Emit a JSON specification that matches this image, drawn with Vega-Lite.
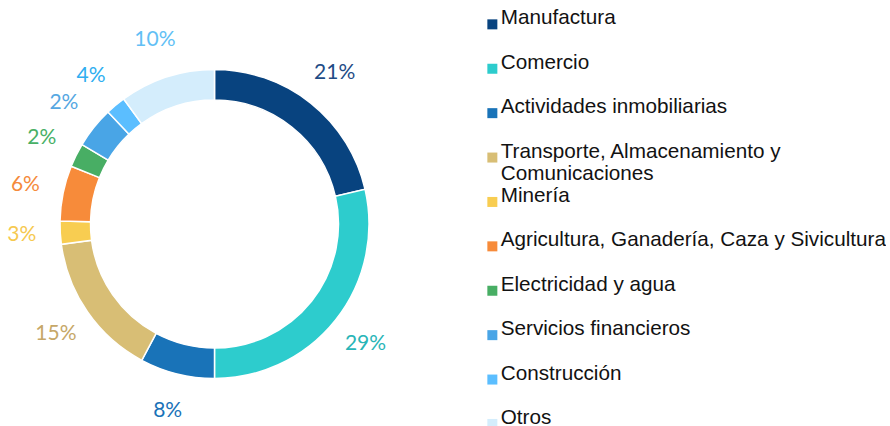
{
  "$schema": "https://vega.github.io/schema/vega-lite/v6.json",
  "padding": {"top": 14, "left": 0, "right": 0, "bottom": 0},
  "width": 429,
  "height": 412,
  "autosize": {"type": "pad"},
  "data": {
    "values": [
      {"orden": 1, "sector": "Manufactura", "valor": 21.4, "etiqueta": "21%"},
      {"orden": 2, "sector": "Comercio", "valor": 28.6, "etiqueta": "29%"},
      {"orden": 3, "sector": "Actividades inmobiliarias", "valor": 7.8, "etiqueta": "8%"},
      {"orden": 4, "sector": "Transporte, Almacenamiento y Comunicaciones", "valor": 15.1, "etiqueta": "15%"},
      {"orden": 5, "sector": "Minería", "valor": 2.4, "etiqueta": "3%"},
      {"orden": 6, "sector": "Agricultura, Ganadería, Caza y Sivicultura", "valor": 5.8, "etiqueta": "6%"},
      {"orden": 7, "sector": "Electricidad y agua", "valor": 2.5, "etiqueta": "2%"},
      {"orden": 8, "sector": "Servicios financieros", "valor": 4.3, "etiqueta": "2%"},
      {"orden": 9, "sector": "Construcción", "valor": 2.1, "etiqueta": "4%"},
      {"orden": 10, "sector": "Otros", "valor": 10.0, "etiqueta": "10%"}
    ]
  },
  "encoding": {
    "theta": {"field": "valor", "type": "quantitative", "stack": true},
    "order": {"field": "orden", "type": "quantitative", "sort": "ascending"}
  },
  "layer": [
    {
      "mark": {"type": "arc", "innerRadius": 124, "outerRadius": 154.5, "stroke": "#ffffff", "strokeWidth": 1.5},
      "encoding": {
        "color": {
          "field": "sector",
          "type": "nominal",
          "scale": {
            "domain": ["Manufactura", "Comercio", "Actividades inmobiliarias", "Transporte, Almacenamiento y Comunicaciones", "Minería", "Agricultura, Ganadería, Caza y Sivicultura", "Electricidad y agua", "Servicios financieros", "Construcción", "Otros"],
            "range": ["#08437f", "#2dcccd", "#1973b8", "#d8be75", "#f8cd51", "#f78b3a", "#48ae64", "#49a5e6", "#5bbeff", "#d4edfc"]
          },
          "legend": {
            "title": null,
            "orient": "none",
            "legendX": 482,
            "legendY": -4,
            "symbolType": "square",
            "symbolSize": 100,
            "symbolStrokeWidth": 0,
            "labelFont": "Liberation Sans",
            "labelFontSize": 20.7,
            "labelColor": "#121212",
            "labelLimit": 420,
            "labelOffset": -2,
            "rowPadding": 0.4,
            "labelBaseline": "alphabetic",
            "labelExpr": "datum.label == 'Transporte, Almacenamiento y Comunicaciones' ? ['Transporte, Almacenamiento y', 'Comunicaciones'] : [datum.label, '']",
            "encode": {"labels": {"update": {"dy": {"value": 6.5}}}}
          }
        }
      }
    },
    {
      "mark": {"type": "text", "radius": 193, "font": "Lato", "fontSize": 21, "fontWeight": 400},
      "encoding": {
        "text": {"field": "etiqueta", "type": "nominal"},
        "color": {
          "field": "sector",
          "type": "nominal",
          "scale": {
            "domain": ["Manufactura", "Comercio", "Actividades inmobiliarias", "Transporte, Almacenamiento y Comunicaciones", "Minería", "Agricultura, Ganadería, Caza y Sivicultura", "Electricidad y agua", "Servicios financieros", "Construcción", "Otros"],
            "range": ["#1f4c86", "#29b5b7", "#1a72b8", "#c6a768", "#f6c94f", "#f58a3b", "#48b066", "#55a7e2", "#2eaef0", "#62bff5"]
          },
          "legend": null
        }
      }
    }
  ],
  "resolve": {"scale": {"color": "independent"}},
  "config": {"view": {"stroke": null}}
}
